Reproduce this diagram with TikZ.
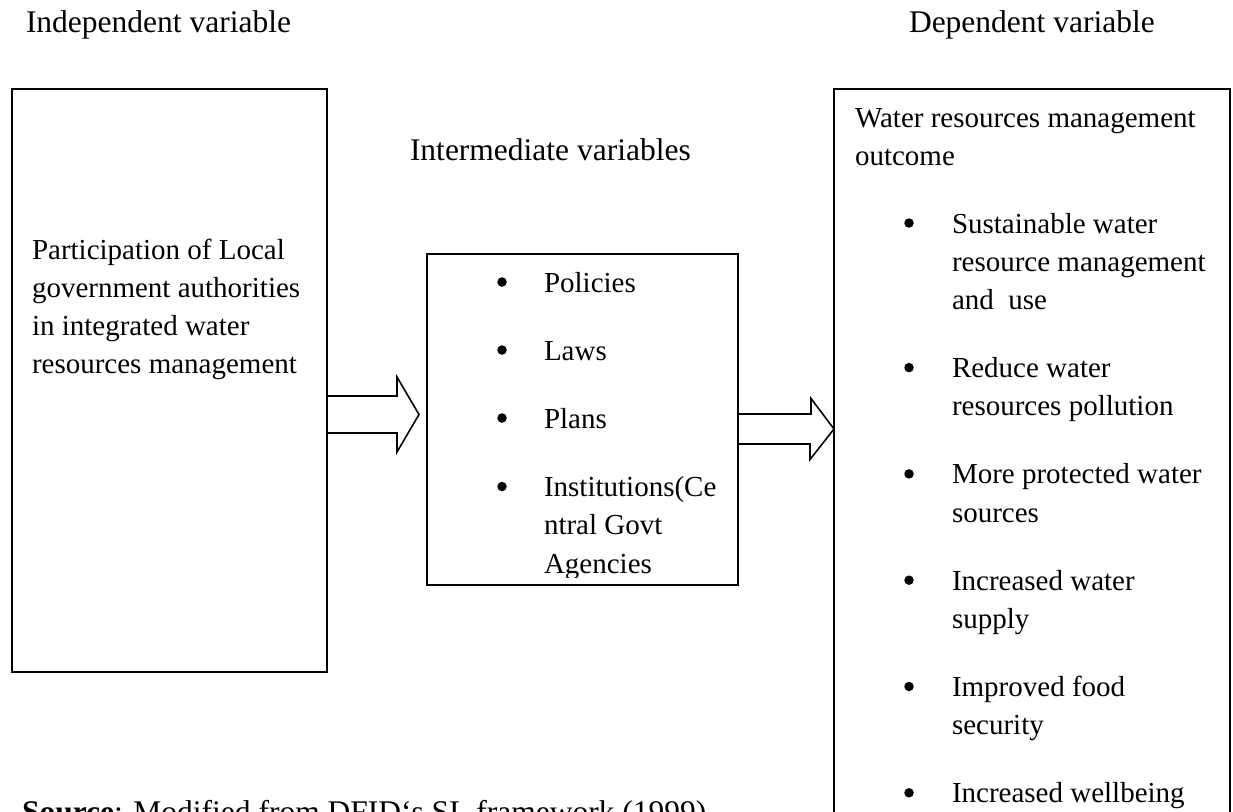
\documentclass[tikz,border=0pt]{standalone}
\usepackage{fontspec}
\setmainfont{Liberation Serif}
\usetikzlibrary{calc}
\tikzset{
  txt/.style={anchor=base west, inner sep=0pt, outer sep=0pt, font=\fontsize{29}{38}\selectfont},
  head/.style={anchor=base west, inner sep=0pt, outer sep=0pt, font=\fontsize{31.5}{38}\selectfont},
  box/.style={draw, line width=2pt, inner sep=0pt, outer sep=0pt, anchor=north west},
  bul/.style={circle, fill, inner sep=0pt, minimum size=9.5pt},
  barrow/.style={draw, line width=1.6pt, line join=miter}
}
\begin{document}
\begin{tikzpicture}[x=1pt,y=-1pt]
\useasboundingbox (0,0) rectangle (1233,811);
% headings
\node[head] (indep) at (26,32) {Independent variable};
\node[head] (dep) at (909,32) {Dependent variable};
\node[head] (inter) at (410,160) {Intermediate variables};
% boxes
\node[box, minimum width=315pt, minimum height=583pt] (L) at (12,89) {};
\node[box, minimum width=311pt, minimum height=331pt] (M) at (427,254) {};
\node[box, minimum width=396pt, minimum height=760pt] (R) at (834,89) {};
% left text
\node[txt] (l1) at (32,259) {Participation of Local};
\node[txt] (l2) at (32,297) {government authorities};
\node[txt] (l3) at (32,335) {in integrated water};
\node[txt] (l4) at (32,373) {resources management};
% middle text
\begin{scope}
\clip (427,254) rectangle (738,577);
\node[bul] (mb1) at (502,282) {};
\node[txt] (m1) at (544,292) {Policies};
\node[bul] (mb2) at (502,350) {};
\node[txt] (m2) at (544,360) {Laws};
\node[bul] (mb3) at (502,418) {};
\node[txt] (m3) at (544,428) {Plans};
\node[bul] (mb4) at (502,486.5) {};
\node[txt] (m4) at (544,496.5) {Institutions(Ce};
\node[txt] (m5) at (544,534.8) {ntral Govt};
\node[txt] (m6) at (544,573) {Agencies};
\end{scope}
% right text
\node[txt] (r0) at (855,127) {Water resources management};
\node[txt] (r00) at (855,165) {outcome};
\node[bul] (rb1) at (909,223) {};
\node[txt] (r1) at (952,233) {Sustainable water};
\node[txt] (r2) at (952,271.3) {resource management};
\node[txt] (r3) at (952,309.6) {and\ \ use};
\node[bul] (rb2) at (909,367.6) {};
\node[txt] (r4) at (952,377.6) {Reduce water};
\node[txt] (r5) at (952,415.9) {resources pollution};
\node[bul] (rb3) at (909,473.9) {};
\node[txt] (r6) at (952,483.9) {More protected water};
\node[txt] (r7) at (952,522.2) {sources};
\node[bul] (rb4) at (909,580.2) {};
\node[txt] (r8) at (952,590.2) {Increased water};
\node[txt] (r9) at (952,628.5) {supply};
\node[bul] (rb5) at (909,686.5) {};
\node[txt] (r10) at (952,696.5) {Improved food};
\node[txt] (r11) at (952,734.8) {security};
\node[bul] (rb6) at (909,792.8) {};
\node[txt] (r12) at (952,802.8) {Increased wellbeing};
% source
\node[head] (src) at (22,822) {\textbf{Source}: Modified from DFID‘s SL framework (1999)};
% block arrows
\coordinate (a1s) at (L.east |- 0,414.5);
\coordinate (a1e) at (419,414.5);
\draw[barrow] (a1s) ++(0,-18.5) -- ++(70,0) -- ++(0,-19) -- (a1e) -- ++(-22,37.5) -- ++(0,-19) -- ++(-70,0);
\coordinate (a2s) at (M.east |- 0,429);
\coordinate (a2e) at (R.west |- 0,429);
\draw[barrow] (a2s) ++(0,-15) -- ++(73,0) -- ++(0,-15.5) -- (a2e) -- ++(-24,30.5) -- ++(0,-15.5) -- ++(-73,0);
\end{tikzpicture}
\end{document}
